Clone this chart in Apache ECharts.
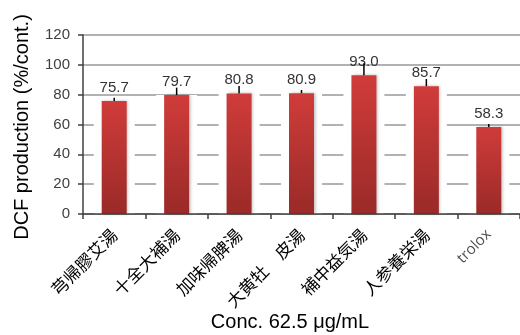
<!DOCTYPE html>
<html><head><meta charset="utf-8">
<script src="https://cdn.jsdelivr.net/npm/echarts@6/dist/echarts.min.js"></script>
<style>html,body{margin:0;padding:0;background:#fff}#c{width:520px;height:335px}</style>
</head><body><div id="c"></div>
<script>
const categories = ['芎帰膠艾湯','十全大補湯','加味帰脾湯','大黄牡　皮湯','補中益気湯','人参養栄湯','trolox'];
const values = [75.7, 79.7, 80.8, 80.9, 93.0, 85.7, 58.3];
const errors = [2.3, 5.0, 5.0, 2.2, 8.0, 4.8, 2.0];
const yTicks = [0, 20, 40, 60, 80, 100, 120];
const yTitle = 'DCF production (%/cont.)';
const xTitle = 'Conc. 62.5 μg/mL';

const chart = echarts.init(document.getElementById('c'));
const cjk = '"Noto Sans CJK JP", sans-serif';
chart.setOption({
  animation: false,
  grid: {left: 83, right: -1, top: 35, bottom: 121, containLabel: false},
  xAxis: [{
    type: 'category', data: categories, z: 10,
    axisLine: {lineStyle: {color: '#404040', width: 1.5}},
    axisTick: {show: true, length: 5, alignWithLabel: false, lineStyle: {color: '#404040', width: 1.5}},
    axisLabel: {
      rotate: 45, margin: 18, fontSize: 17, fontFamily: cjk, interval: 0, color: '#000',
      formatter: function (v) { return v === 'trolox' ? '{t|' + v + '}' : v; },
      rich: {t: {fontSize: 15, color: '#505050', fontFamily: '"Open Sans", "Liberation Sans", sans-serif', fontWeight: 'normal'}}
    }
  }, {
    type: 'category', data: categories, show: false
  }],
  yAxis: {
    type: 'value', min: yTicks[0], max: yTicks[yTicks.length - 1], interval: 20,
    axisLine: {show: true, lineStyle: {color: '#404040', width: 1.5}},
    axisTick: {show: true, length: 5, lineStyle: {color: '#404040', width: 1.5}},
    axisLabel: {fontSize: 15, color: '#404040', margin: 13, fontFamily: 'Liberation Sans, sans-serif'},
    splitLine: {lineStyle: {color: '#999', width: 1.5}}
  },
  graphic: [
    {type: 'text', x: 22, y: 127, rotation: Math.PI / 2,
     style: {text: yTitle, font: '20px "Liberation Sans", Arial, sans-serif', fill: '#000', align: 'center', verticalAlign: 'middle'}},
    {type: 'text', x: 290, y: 322,
     style: {text: xTitle, font: '20px "Liberation Sans", Arial, sans-serif', fill: '#000', align: 'center', verticalAlign: 'middle'}}
  ],
  series: [{
    type: 'bar', xAxisIndex: 1, data: values, barWidth: 41, silent: true, z: 1,
    itemStyle: {color: '#fff'}
  }, {
    type: 'bar', xAxisIndex: 0, data: values, barWidth: 25, z: 2,
    itemStyle: {
      color: new echarts.graphic.LinearGradient(0, 0, 0, 1, [
        {offset: 0, color: '#d03c3a'}, {offset: 1, color: '#9a2a28'}
      ]),
      shadowColor: 'rgba(0,0,0,0.25)', shadowBlur: 3, shadowOffsetX: 1.5
    },
    label: {
      show: true, position: 'top', distance: 6, fontSize: 15, color: '#333',
      fontFamily: 'Liberation Sans, sans-serif',
      formatter: p => p.value.toFixed(1)
    }
  }, {
    type: 'custom', xAxisIndex: 0, z: 5,
    data: values.map((v, i) => [i, v, errors[i]]),
    renderItem: function (params, api) {
      const i = api.value(0), v = api.value(1), e = api.value(2);
      const p0 = api.coord([i, v]);
      const p1 = api.coord([i, v + e]);
      return {type: 'line', shape: {x1: p0[0], y1: p0[1], x2: p1[0], y2: p1[1]},
              style: {stroke: '#000', lineWidth: 1.5}};
    }
  }]
});
</script></body></html>
